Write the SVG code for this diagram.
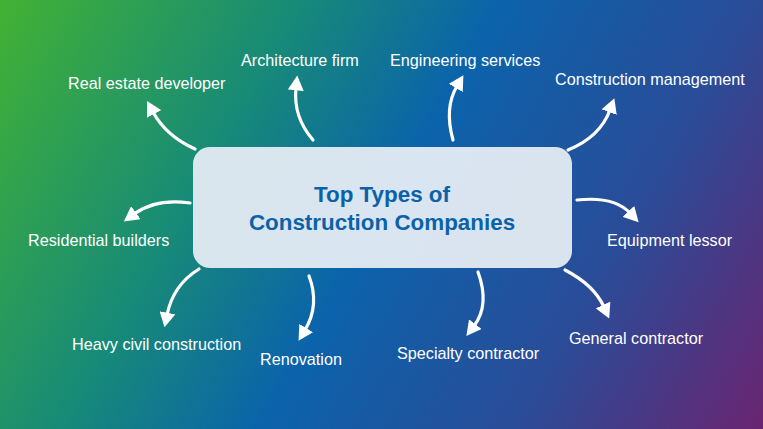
<svg xmlns="http://www.w3.org/2000/svg" width="763" height="429" viewBox="0 0 763 429">
<defs>
<linearGradient id="bg" x1="0" y1="0" x2="763" y2="429" gradientUnits="userSpaceOnUse">
<stop offset="0" stop-color="#42b233"/>
<stop offset="0.3" stop-color="#178a78"/>
<stop offset="0.5" stop-color="#0b63ab"/>
<stop offset="0.75" stop-color="#2a4c98"/>
<stop offset="1" stop-color="#6a2470"/>
</linearGradient>
<marker id="ah" markerUnits="userSpaceOnUse" markerWidth="16" markerHeight="16" refX="2" refY="7" orient="auto" viewBox="0 0 14 14">
<path d="M0,0 L13,7 L0,14 Z" fill="#ffffff"/>
</marker>
<style>
.lbl{font-family:"Liberation Sans",Arial,sans-serif;font-size:16.2px;fill:#ffffff}
.ttl{font-family:"Liberation Sans",Arial,sans-serif;font-size:22.4px;font-weight:bold;fill:#0b62a8;text-anchor:middle}
.arr{fill:none;stroke:#ffffff;stroke-width:3.2;stroke-linecap:round;marker-end:url(#ah)}
</style>
</defs>
<rect width="763" height="429" fill="url(#bg)"/>
<g id="connectors">
<path class="arr" d="M195,149 Q166,136 153,112"/>
<path class="arr" d="M313,140 Q293,117 296,88"/>
<path class="arr" d="M453,140 Q444,108 457,86"/>
<path class="arr" d="M568,150 Q600,137 610,110"/>
<path class="arr" d="M190,203 Q156,198 134,214"/>
<path class="arr" d="M199,269 Q173,285 167,315"/>
<path class="arr" d="M309,276 Q320,305 305,330"/>
<path class="arr" d="M478,272 Q490,305 474,326"/>
<path class="arr" d="M577,200 Q614,196 630,213"/>
<path class="arr" d="M565,270 Q594,285 604,307"/>
</g>
<g id="center">
<rect x="193" y="147" width="379" height="121" rx="17" fill="#e2eaf2" fill-opacity="0.96"/>
<text class="ttl" x="382" y="202">Top Types of</text>
<text class="ttl" x="382" y="230">Construction Companies</text>
</g>
<g id="n-real-estate"><text class="lbl" x="68" y="89">Real estate developer</text></g>
<g id="n-architecture"><text class="lbl" x="241" y="66">Architecture firm</text></g>
<g id="n-engineering"><text class="lbl" x="390" y="66">Engineering services</text></g>
<g id="n-construction-mgmt"><text class="lbl" x="555" y="85">Construction management</text></g>
<g id="n-residential"><text class="lbl" x="28" y="246">Residential builders</text></g>
<g id="n-equipment"><text class="lbl" x="607" y="246">Equipment lessor</text></g>
<g id="n-heavy-civil"><text class="lbl" x="72" y="350">Heavy civil construction</text></g>
<g id="n-renovation"><text class="lbl" x="260" y="365">Renovation</text></g>
<g id="n-specialty"><text class="lbl" x="397" y="359">Specialty contractor</text></g>
<g id="n-general"><text class="lbl" x="569" y="344">General contractor</text></g>
</svg>
